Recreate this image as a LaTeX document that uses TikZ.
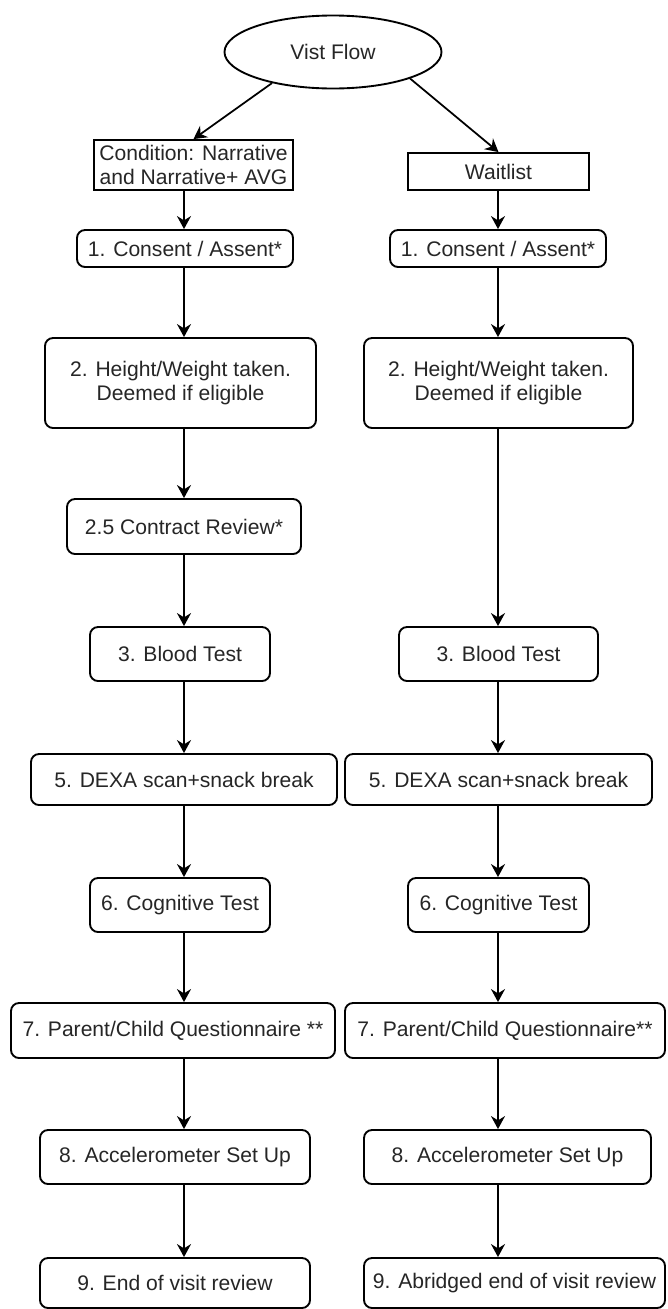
\documentclass[tikz,border=0pt]{standalone}
\usepackage{fontspec}
\setmainfont{Liberation Sans}
\usepackage{tikz}
\usetikzlibrary{shapes.geometric}
\usetikzlibrary{arrows.meta}
\colorlet{myline}{black}
\colorlet{mytext}{black!85}

\tikzset{
	flowbox/.style 2 args={draw=myline, text=mytext, line width=1.6pt, rounded corners=2.4mm, inner sep=0pt, align=center, minimum width=#1*0.03cm, minimum height=#2*0.03cm},
	groupbox/.style 2 args={draw=myline, text=mytext, line width=1.6pt, inner sep=0pt, align=center, minimum width=#1*0.03cm, minimum height=#2*0.03cm},
	flowarrow/.style={draw=myline, line width=1.5pt, -{Stealth[length=3.9mm, width=4.2mm, inset=1.3mm]}}
}

\begin{document}
\begin{tikzpicture}[x=0.03cm, y=-0.03cm, font=\fontsize{18}{20}\selectfont]
		\useasboundingbox[fill=white] (0,0) rectangle (667,1309);
		
		% Columns of the arrows
		\coordinate (lcol) at (184,0);
		\coordinate (rcol) at (498,0);
		
		% Draw the start
		\node[draw=myline, text=mytext, ellipse, line width=1.6pt, minimum width=217*0.03cm, minimum height=73*0.03cm] (flow) at (333,52) {Vist Flow};
		
		% Draw the two arms
		\node[groupbox={199}{50}] (cond) at (193.5,165) {Condition: Narrative\\and Narrative+ AVG};
		\node[groupbox={181}{37}] (wait) at (498.5,171.5) {Waitlist};
		
		% Left arm
		\node[flowbox={216}{37}] (consentL) at (185,248.5) {1. Consent / Assent*};
		\node[flowbox={271}{90}] (heightL) at (180.5,383) {2. Height/Weight taken.\\Deemed if eligible};
		\node[flowbox={234}{55}] (contract) at (184,526.5) {2.5 Contract Review*};
		\node[flowbox={180}{54}] (bloodL) at (180,654) {3. Blood Test};
		\node[flowbox={306}{51}] (dexaL) at (184,779.5) {5. DEXA scan+snack break};
		\node[flowbox={180}{54}] (cogL) at (180,905) {6. Cognitive Test};
		\node[flowbox={324}{55}] (questL) at (173,1030.5) {7. Parent/Child Questionnaire **};
		\node[flowbox={270}{54}] (accelL) at (175,1157) {8. Accelerometer Set Up};
		\node[flowbox={270}{50}] (endL) at (175,1283) {9. End of visit review};
		
		% Right arm
		\node[flowbox={216}{37}] (consentR) at (498,248.5) {1. Consent / Assent*};
		\node[flowbox={269}{90}] (heightR) at (498.5,383) {2. Height/Weight taken.\\Deemed if eligible};
		\node[flowbox={199}{54}] (bloodR) at (498.5,654) {3. Blood Test};
		\node[flowbox={307}{51}] (dexaR) at (498.5,779.5) {5. DEXA scan+snack break};
		\node[flowbox={181}{54}] (cogR) at (498.5,905) {6. Cognitive Test};
		\node[flowbox={320}{55}] (questR) at (505,1030.5) {7. Parent/Child Questionnaire**};
		\node[flowbox={287}{54}] (accelR) at (507.5,1157) {8. Accelerometer Set Up};
		\node[flowbox={301}{50}] (endR) at (514.5,1283) {9. Abridged end of visit review};
		
		% Draw the arrows
		\draw[flowarrow] (flow.207) -- (cond.north);
		\draw[flowarrow] (flow.-19) -- (wait.north);
		
		\draw[flowarrow] (cond.south -| lcol) -- (consentL.north -| lcol);
		\draw[flowarrow] (consentL.south -| lcol) -- (heightL.north -| lcol);
		\draw[flowarrow] (heightL.south -| lcol) -- (contract.north -| lcol);
		\draw[flowarrow] (contract.south -| lcol) -- (bloodL.north -| lcol);
		\draw[flowarrow] (bloodL.south -| lcol) -- (dexaL.north -| lcol);
		\draw[flowarrow] (dexaL.south -| lcol) -- (cogL.north -| lcol);
		\draw[flowarrow] (cogL.south -| lcol) -- (questL.north -| lcol);
		\draw[flowarrow] (questL.south -| lcol) -- (accelL.north -| lcol);
		\draw[flowarrow] (accelL.south -| lcol) -- (endL.north -| lcol);
		
		\draw[flowarrow] (wait.south -| rcol) -- (consentR.north -| rcol);
		\draw[flowarrow] (consentR.south -| rcol) -- (heightR.north -| rcol);
		\draw[flowarrow] (heightR.south -| rcol) -- (bloodR.north -| rcol);
		\draw[flowarrow] (bloodR.south -| rcol) -- (dexaR.north -| rcol);
		\draw[flowarrow] (dexaR.south -| rcol) -- (cogR.north -| rcol);
		\draw[flowarrow] (cogR.south -| rcol) -- (questR.north -| rcol);
		\draw[flowarrow] (questR.south -| rcol) -- (accelR.north -| rcol);
		\draw[flowarrow] (accelR.south -| rcol) -- (endR.north -| rcol);
	\end{tikzpicture}
\end{document}
